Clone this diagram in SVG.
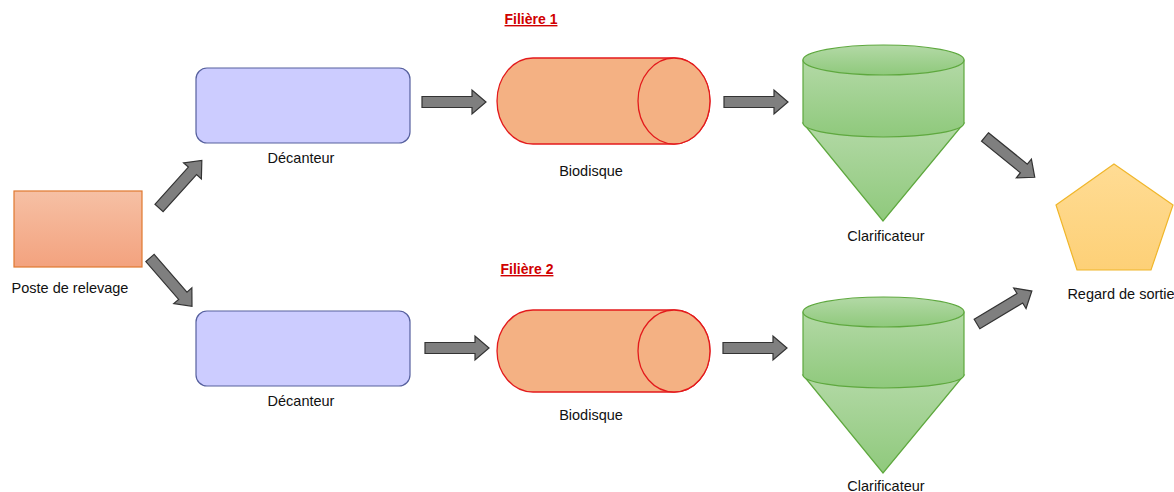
<svg xmlns="http://www.w3.org/2000/svg" width="1174" height="492" viewBox="0 0 1174 492">
<defs>
<style>
text{font-family:"Liberation Sans",Arial,sans-serif;font-size:14.5px;fill:#111;text-anchor:middle}
.title{font-weight:bold;font-size:14px;fill:#d00000;text-decoration:underline}
.dec{fill:#ccccff;stroke:#56609e;stroke-width:1.2}
.bio{fill:#f4b183;stroke:#e31a1c;stroke-width:1.3}
.cla{fill:url(#gG);stroke:#5ea83e;stroke-width:1.2}
.arr{fill:#7f7f7f;stroke:#333;stroke-width:1.2;stroke-linejoin:miter}
</style>
<linearGradient id="gO" x1="0" y1="0" x2="0" y2="1"><stop offset="0" stop-color="#f6c0a4"/><stop offset="1" stop-color="#f3a27e"/></linearGradient>
<linearGradient id="gG" x1="0" y1="0" x2="0" y2="1"><stop offset="0" stop-color="#b3d9a6"/><stop offset="1" stop-color="#8fc97c"/></linearGradient>
<linearGradient id="gY" x1="0" y1="0" x2="0" y2="1"><stop offset="0" stop-color="#ffdc94"/><stop offset="1" stop-color="#fdd077"/></linearGradient>
<path id="a64" class="arr" d="M0,-5.5 L50,-5.5 L50,-12 L64,0 L50,12 L50,5.5 L0,5.5 Z"/>
</defs>
<rect width="1174" height="492" fill="#fff"/>

<text class="title" x="531" y="24">Filière 1</text>
<text class="title" x="527" y="274">Filière 2</text>

<g id="poste">
<rect x="14" y="191" width="128" height="76" fill="url(#gO)" stroke="#e0782f" stroke-width="1.2"/>
<text x="70" y="293">Poste de relevage</text>
</g>

<g id="decanteur1">
<rect class="dec" x="196" y="68" width="214" height="75" rx="11"/>
<text x="301" y="163">Décanteur</text>
</g>
<g id="decanteur2">
<rect class="dec" x="196" y="311" width="214" height="75" rx="11"/>
<text x="301" y="406">Décanteur</text>
</g>

<g id="biodisque1">
<path class="bio" d="M533,58 L674,58 A36,43 0 0 1 674,144 L533,144 A36,43 0 0 1 533,58 Z"/>
<ellipse class="bio" cx="674" cy="101" rx="36" ry="43"/>
<text x="591" y="176">Biodisque</text>
</g>
<g id="biodisque2">
<path class="bio" d="M533,310 L674,310 A36,41 0 0 1 674,392 L533,392 A36,41 0 0 1 533,310 Z"/>
<ellipse class="bio" cx="674" cy="351" rx="36" ry="41"/>
<text x="591" y="420">Biodisque</text>
</g>

<g id="clarificateur1">
<path class="cla" d="M803,123 L883,221 L964,123 Z"/>
<path class="cla" d="M803,60 L803,123 A80.5,14 0 0 0 964,123 L964,60 Z"/>
<ellipse class="cla" cx="883.5" cy="60" rx="80.5" ry="15"/>
<text x="886" y="241">Clarificateur</text>
</g>
<g id="clarificateur2">
<path class="cla" d="M803,375 L883,473 L964,375 Z"/>
<path class="cla" d="M803,312 L803,375 A80.5,13 0 0 0 964,375 L964,312 Z"/>
<ellipse class="cla" cx="883.5" cy="312" rx="80.5" ry="15"/>
<text x="886" y="491">Clarificateur</text>
</g>

<g id="regard">
<polygon points="1114,164 1173,205 1151,270 1077,270 1056,205" fill="url(#gY)" stroke="#f0b62a" stroke-width="1.2"/>
<text x="1121" y="299">Regard de sortie</text>
</g>

<g id="connectors">
<use href="#a64" transform="translate(159,208) rotate(-48)"/>
<use href="#a64" transform="translate(150,258) rotate(49)"/>
<use href="#a64" transform="translate(422,102)"/>
<use href="#a64" transform="translate(724,102)"/>
<use href="#a64" transform="translate(425,348)"/>
<use href="#a64" transform="translate(723,348)"/>
<use href="#a64" transform="translate(985,137) rotate(39)"/>
<use href="#a64" transform="translate(977,324) rotate(-31)"/>
</g>
</svg>
